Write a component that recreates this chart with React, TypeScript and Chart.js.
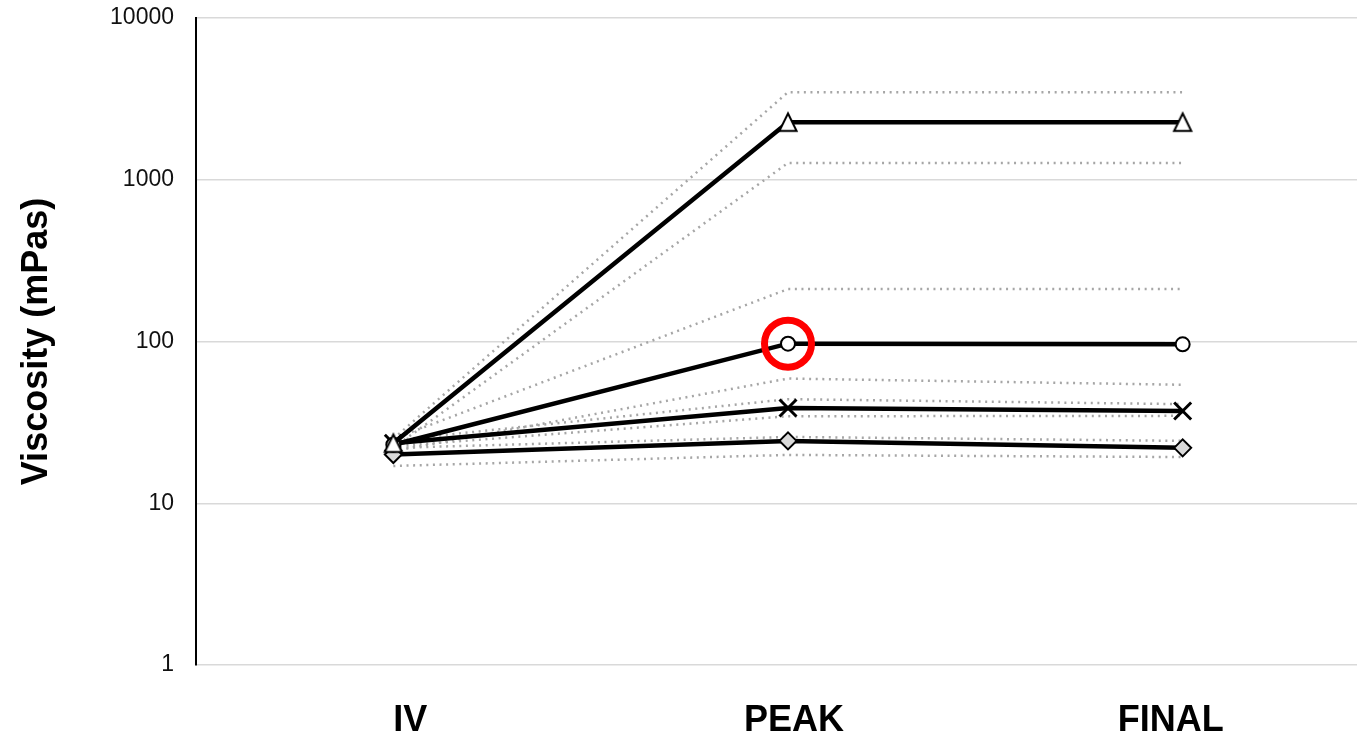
import React, { useEffect, useRef } from "react";
import { Chart, registerables } from "chart.js";

Chart.register(...registerables);

const stages = ["IV", "PEAK", "FINAL"];
const yTickValues = [1, 10, 100, 1000, 10000];

const triangleMean = [23.5, 2270, 2270];
const triangleUpper = [25, 3480, 3480];
const triangleLower = [22, 1270, 1270];

const circleMean = [23, 97, 96];
const circleUpper = [25, 211, 211];
const circleLower = [21, 59, 54];

const crossMean = [23.5, 38.8, 37.2];
const crossUpper = [24.5, 44, 41];
const crossLower = [22.5, 34.5, 34.7];

const diamondMean = [20, 24.3, 22];
const diamondUpper = [22, 25.7, 24.3];
const diamondLower = [17, 19.9, 19.3];

const highlightIndex = 1;

const FONT = "'Liberation Sans', Arial, sans-serif";

function makeTriangle(): HTMLCanvasElement {
  const c = document.createElement("canvas");
  c.width = 24;
  c.height = 24;
  const ctx = c.getContext("2d")!;
  ctx.beginPath();
  ctx.moveTo(12, 3.2);
  ctx.lineTo(20.6, 20.8);
  ctx.lineTo(3.4, 20.8);
  ctx.closePath();
  ctx.fillStyle = "#ffffff";
  ctx.fill();
  ctx.lineWidth = 2;
  ctx.lineJoin = "miter";
  ctx.strokeStyle = "#000000";
  ctx.stroke();
  return c;
}

function dotted(data: number[]) {
  return {
    data,
    borderColor: "#a6a6a6",
    borderWidth: 2.5,
    borderDash: [2, 4.6],
    pointRadius: 0,
    fill: false,
    tension: 0,
    order: 3,
  };
}

function solid(data: number[], style: any, radius: number, bg: string, bw: number) {
  return {
    data,
    borderColor: "#000000",
    borderWidth: 4.5,
    pointStyle: style,
    pointRadius: radius,
    pointBackgroundColor: bg,
    pointBorderColor: "#000000",
    pointBorderWidth: bw,
    fill: false,
    tension: 0,
    order: 2,
  };
}

// Draw the category labels as canvas text, slightly nudged like the original layout.
const categoryLabelPlugin = {
  id: "categoryLabels",
  afterDraw(chart: any) {
    const xScale = chart.scales.x;
    const nudges = [17, 6, -12];
    const ctx = chart.ctx;
    ctx.save();
    ctx.font = `bold 36px ${FONT}`;
    ctx.fillStyle = "#000000";
    ctx.textAlign = "center";
    ctx.textBaseline = "alphabetic";
    const labels = chart.data.labels as string[];
    labels.forEach((lab, i) => {
      const x = xScale.getPixelForTick(i) + (nudges[i] || 0);
      ctx.fillText(lab, x, chart.chartArea.bottom + 65.5);
    });
    ctx.restore();
  },
};

export default function App() {
  const ref = useRef<HTMLCanvasElement | null>(null);

  useEffect(() => {
    if (!ref.current) return;
    const highlight = stages.map((_, i) => (i === highlightIndex ? circleMean[i] : null));
    const chart = new Chart(ref.current, {
      type: "line",
      data: {
        labels: stages,
        datasets: [
          {
            data: highlight as any,
            showLine: false,
            pointStyle: "circle",
            pointRadius: 23.5,
            pointBorderWidth: 7,
            pointBorderColor: "#ff0000",
            pointBackgroundColor: "rgba(0,0,0,0)",
            borderColor: "#ff0000",
            order: 0,
          } as any,
          solid(triangleMean, makeTriangle(), 10, "#ffffff", 2),
          solid(circleMean, "circle", 7, "#ffffff", 2),
          solid(crossMean, "crossRot", 12, "#000000", 3),
          solid(diamondMean, "rectRot", 8.5, "#d9d9d9", 2),
          dotted(triangleUpper),
          dotted(triangleLower),
          dotted(circleUpper),
          dotted(circleLower),
          dotted(crossUpper),
          dotted(crossLower),
          dotted(diamondUpper),
          dotted(diamondLower),
        ],
      },
      options: {
        responsive: false,
        animation: false,
        layout: { autoPadding: false, padding: { top: 18, left: 0, right: 0, bottom: 0 } },
        plugins: {
          legend: { display: false },
          tooltip: { enabled: false },
        },
        scales: {
          x: {
            type: "category",
            offset: true,
            grid: { display: false, drawTicks: false },
            border: { display: false },
            ticks: { display: false },
            afterFit: (scale: any) => {
              scale.height = 69;
              scale.paddingLeft = 0;
              scale.paddingRight = 0;
            },
          },
          y: {
            type: "logarithmic",
            min: 1,
            max: 10000,
            afterBuildTicks: (scale: any) => {
              scale.ticks = yTickValues.map((v) => ({ value: v, major: true }));
            },
            afterFit: (scale: any) => {
              scale.width = 196;
              scale.paddingTop = 0;
              scale.paddingBottom = 0;
            },
            grid: { color: "#d9d9d9", lineWidth: 1.5, drawTicks: false },
            border: { display: true, color: "#000000", width: 2 },
            ticks: {
              color: "#111111",
              padding: 22,
              font: { family: FONT, size: 23 },
              callback: (v: any) => String(v),
            },
            title: {
              display: true,
              text: "Viscosity (mPas)",
              color: "#000000",
              font: { family: FONT, size: 36, weight: "bold" },
              padding: { top: 15, bottom: 0 },
            },
          },
        },
      } as any,
      plugins: [categoryLabelPlugin],
    });
    return () => chart.destroy();
  }, []);

  return (
    <div
      style={{
        position: "fixed",
        left: 0,
        top: 0,
        width: 1357,
        height: 734,
        overflow: "hidden",
        background: "#ffffff",
      }}
    >
      <canvas ref={ref} width={1380} height={734} style={{ width: 1380, height: 734, display: "block" }} />
    </div>
  );
}
